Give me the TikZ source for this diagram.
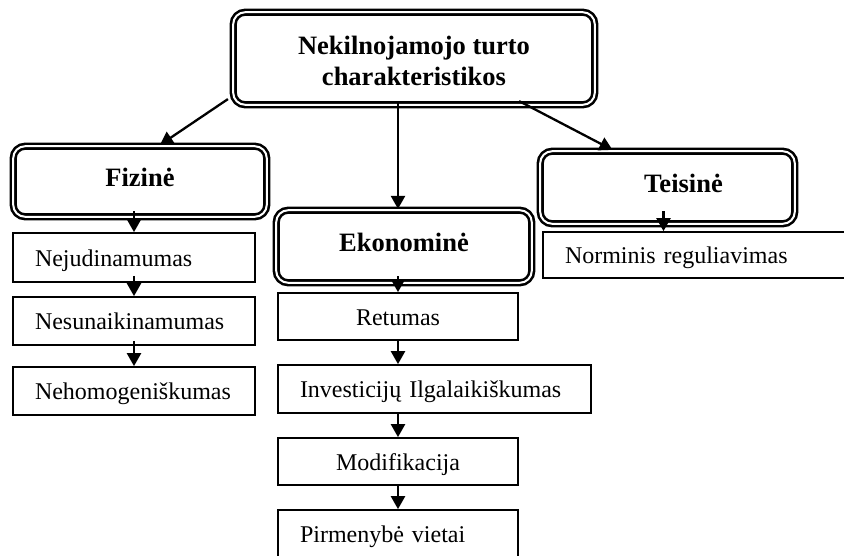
\documentclass[tikz,border=0pt]{standalone}
\usepackage{fontspec}
\setmainfont{Liberation Serif}
\usetikzlibrary{arrows.meta,calc}
\hyphenpenalty=10000

\begin{document}
\begin{tikzpicture}[x=1pt,y=-1pt,
        dbox/.style={draw, double, double distance=2pt, line width=2.6pt, rounded corners=12pt,
                inner sep=0pt, align=center, text height=18pt, text depth=8pt,
                font=\fontsize{26.5}{31}\selectfont\bfseries},
        cell/.style={draw, line width=1.7pt, inner xsep=22pt, inner ysep=0pt,
                text height=18pt, text depth=1pt, minimum height=48pt,
                font=\fontsize{24}{28}\selectfont},
        arr/.style={line width=2.3pt, -{Triangle[length=13pt,width=14pt]}}]
        \useasboundingbox (0,0) rectangle (844,555);
        \clip (0,0) rectangle (844,555);
        % top level
        \node[dbox, minimum width=361.6pt, minimum height=92.6pt, text height=, text depth=]
                (top) at (414,58.5) {\rule{0pt}{24pt}Nekilnojamojo turto\\charakteristikos};
        \node[dbox, minimum width=253.6pt, minimum height=70.6pt] (fiz) at (140,181.5) {Fizinė};
        \node[dbox, minimum width=255.6pt, minimum height=72.6pt] (eko) at (404,246.5) {Ekonominė};
        \node[dbox, minimum width=254.6pt, minimum height=72.6pt] (tei) at (667.5,187.5) {\hspace*{32pt}Teisinė};
        % fizine
        \node[cell, text width=198pt, align=left, minimum height=49pt] (nej) at (134,257.5) {Nejudinamumas};
        \node[cell, text width=198pt, align=left] (nes) at (134,321) {Nesunaikinamumas};
        \node[cell, text width=198pt, align=left] (neh) at (134,391) {Nehomogeniškumas};
        % ekonomine
        \node[cell, minimum width=240pt, minimum height=47pt] (ret) at (398,316.5) {Retumas};
        \node[cell, text width=269pt, align=left] (inv) at (434.5,389) {Investicijų Ilgalaikiškumas};
        \node[cell, minimum width=240pt, minimum height=47pt] (mod) at (398,461.5) {Modifikacija};
        \node[cell, text width=196pt, align=left] (pir) at (398,534) {Pirmenybė vietai};
        % teisine
        \node[cell, text width=263pt, align=left, minimum height=46pt] (nor) at (696.5,255) {Norminis reguliavimas};
        \coordinate (tn) at ($(tei.south)+(-4,0)$);

        \draw[arr] ($(top.south west)+(-4,-7)$) -- ($(fiz.north)+(20,0)$);
        \draw[arr] ($(top.south)+(-16,-3)$) -- ($(eko.north)+(-6,0)$);
        \draw[arr] ($(top.south east)+(-77,-5)$) -- ($(tei.north)+(-55,0)$);

        \draw[arr] ($(nej.north |- fiz.south)+(0,-7)$) -- (nej.north);
        \draw[arr] ($(nej.south)+(0,-7)$) -- (nes.north);
        \draw[arr] ($(nes.south)+(0,-5)$) -- (neh.north);

        \draw[arr] ($(ret.north |- eko.south)+(0,-8)$) -- (ret.north);
        \draw[arr] (ret.south) -- (ret.south |- inv.north);
        \draw[arr] (mod.north |- inv.south) -- (mod.north);
        \draw[arr] (mod.south) -- (pir.north);

        \draw[arr] ($(tn)+(0,-14)$) -- (tn |- nor.north);
\end{tikzpicture}
\end{document}
